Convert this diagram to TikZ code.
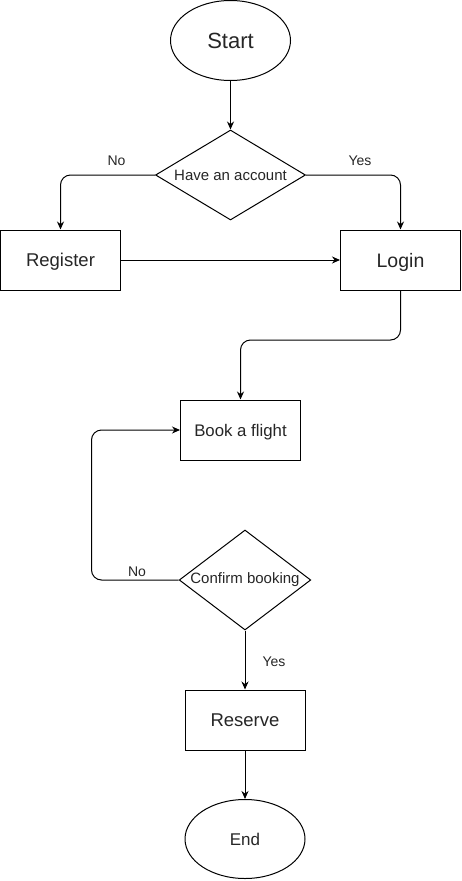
\documentclass[tikz,border=0pt]{standalone}
\usepackage{fontspec}
\setmainfont{Liberation Sans}
\usetikzlibrary{shapes.geometric,arrows.meta}
\begin{document}
\begin{tikzpicture}[x=1pt,y=-1pt,
  base/.style={draw=black,line width=1pt,inner sep=0pt,text=black!85},
  term/.style={base,ellipse,minimum width=120pt,minimum height=80pt},
  procbox/.style={base,rectangle,minimum width=120pt,minimum height=60pt},
  decis/.style={base,diamond},
  arr/.style={line width=1pt,-{Stealth[length=8pt,width=7pt]},rounded corners=10pt},
  lbl/.style={font=\fontsize{14}{16}\selectfont,text=black!85,inner sep=0pt}]
\path[use as bounding box] (0,0) rectangle (461,881);
\node[term,font=\fontsize{22}{26}\selectfont] (start) at (230.5,40.5) {Start};
\node[decis,aspect=2,minimum width=150pt,minimum height=90pt,font=\fontsize{15}{17}\selectfont] (q1) at (230.5,175) {Have an account};
\node[procbox,font=\fontsize{18.5}{22}\selectfont,text depth=0pt] (reg) at (60.5,260) {Register};
\node[procbox,font=\fontsize{19.5}{23}\selectfont,text depth=0pt] (login) at (400.5,260) {Login};
\node[procbox,font=\fontsize{16.8}{20}\selectfont,text depth=0pt] (book) at (240.5,430) {Book a flight};
\node[decis,aspect=1.6,minimum width=130pt,minimum height=100pt,font=\fontsize{15}{17}\selectfont] (q2) at (245,580) {Confirm booking};
\node[procbox,font=\fontsize{18.5}{22}\selectfont] (res) at (245,720) {Reserve};
\node[term,minimum height=79pt,font=\fontsize{17}{20}\selectfont] (end) at (245,839) {End};
\coordinate (bend1) at (400.5,340);
\coordinate (loop) at (91.5,580);
\draw[arr] (start) -- (q1);
\draw[arr] (q1.west) -| (reg.north);
\draw[arr] (q1.east) -| (login.north);
\draw[arr] (reg.east) -- (login.west);
\draw[arr] (login.south) -- (bend1) -| (book.north);
\draw[arr] (q2.west) -- (loop) |- (book.west);
\draw[arr] (q2.south) -- (res.north);
\draw[arr] (res.south) -- (end.north);
\node[lbl] (no1) at (116.5,161) {No};
\node[lbl] (yes1) at (360,161) {Yes};
\node[lbl] (no2) at (137,572) {No};
\node[lbl] (yes2) at (274,662) {Yes};
\end{tikzpicture}
\end{document}
